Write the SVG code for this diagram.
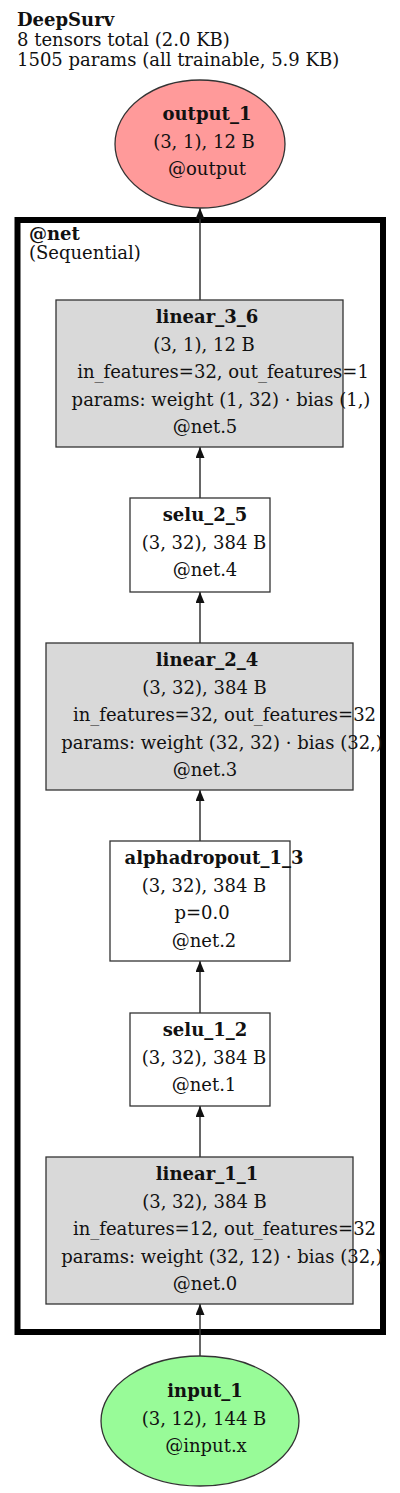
<svg xmlns="http://www.w3.org/2000/svg" width="400" height="1493" viewBox="0 0 400 1493">
<style>
text{font-family:"DejaVu Serif","Liberation Serif",serif;font-size:18px;fill:#111}
.b{font-weight:bold}
.m{text-anchor:middle}
.box{stroke:#333;stroke-width:1.3}
.g{fill:#d9d9d9}
.w{fill:#fff}
.e{stroke:#333;stroke-width:1.5;fill:none}
</style>
<defs>
<marker id="ah" markerUnits="userSpaceOnUse" markerWidth="11" markerHeight="9" refX="11" refY="4.5" orient="auto">
<path d="M0,0 L11,4.5 L0,9 z" fill="#111"/>
</marker>
</defs>
<rect width="400" height="1493" fill="#fff"/>
<g id="header">
<text x="17" y="26" class="b">DeepSurv</text>
<text x="17" y="46">8 tensors total (2.0 KB)</text>
<text x="17" y="66">1505 params (all trainable, 5.9 KB)</text>
</g>
<g id="cluster_net">
<rect x="17.5" y="220" width="365.5" height="1112" fill="none" stroke="#000" stroke-width="6"/>
<text x="29" y="240" class="b">@net</text>
<text x="29" y="259">(Sequential)</text>
</g>
<g id="edges">
<line class="e" x1="200" y1="300" x2="200" y2="208" marker-end="url(#ah)"/>
<line class="e" x1="200" y1="498" x2="200" y2="447" marker-end="url(#ah)"/>
<line class="e" x1="200" y1="643" x2="200" y2="592" marker-end="url(#ah)"/>
<line class="e" x1="200" y1="841" x2="200" y2="790" marker-end="url(#ah)"/>
<line class="e" x1="200" y1="1013" x2="200" y2="961" marker-end="url(#ah)"/>
<line class="e" x1="200" y1="1157" x2="200" y2="1106" marker-end="url(#ah)"/>
<line class="e" x1="200" y1="1356" x2="200" y2="1304" marker-end="url(#ah)"/>
</g>
<g id="output_1">
<ellipse cx="200" cy="144" rx="85" ry="64" fill="#ff9a9a" class="box"/>
<text x="207" y="120" class="b m">output_1</text>
<text x="204" y="148" class="m">(3, 1), 12 B</text>
<text x="207" y="175" class="m">@output</text>
</g>
<g id="linear_3_6">
<rect x="56" y="300" width="287" height="147" class="box g"/>
<text x="207" y="323" class="b m">linear_3_6</text>
<text x="204" y="350.5" class="m">(3, 1), 12 B</text>
<text x="223" y="378" class="m">in_features=32, out_features=1</text>
<text x="221" y="405.5" class="m">params: weight (1, 32) · bias (1,)</text>
<text x="205" y="433" class="m">@net.5</text>
</g>
<g id="selu_2_5">
<rect x="130" y="498" width="140" height="94" class="box w"/>
<text x="205" y="521" class="b m">selu_2_5</text>
<text x="204" y="548.5" class="m">(3, 32), 384 B</text>
<text x="205" y="576" class="m">@net.4</text>
</g>
<g id="linear_2_4">
<rect x="46" y="643" width="307" height="147" class="box g"/>
<text x="207" y="666" class="b m">linear_2_4</text>
<text x="204.5" y="693.5" class="m">(3, 32), 384 B</text>
<text x="224.5" y="721" class="m">in_features=32, out_features=32</text>
<text x="222" y="748.5" class="m">params: weight (32, 32) · bias (32,)</text>
<text x="205" y="776" class="m">@net.3</text>
</g>
<g id="alphadropout_1_3">
<rect x="110" y="841" width="180" height="120" class="box w"/>
<text x="214" y="864" class="b m">alphadropout_1_3</text>
<text x="204" y="891.5" class="m">(3, 32), 384 B</text>
<text x="202" y="919" class="m">p=0.0</text>
<text x="204" y="946.5" class="m">@net.2</text>
</g>
<g id="selu_1_2">
<rect x="130" y="1013" width="140" height="93" class="box w"/>
<text x="205" y="1036" class="b m">selu_1_2</text>
<text x="204" y="1063.5" class="m">(3, 32), 384 B</text>
<text x="204" y="1091" class="m">@net.1</text>
</g>
<g id="linear_1_1">
<rect x="46" y="1157" width="307" height="147" class="box g"/>
<text x="207" y="1180" class="b m">linear_1_1</text>
<text x="204.5" y="1207.5" class="m">(3, 32), 384 B</text>
<text x="224.5" y="1235" class="m">in_features=12, out_features=32</text>
<text x="222" y="1262.5" class="m">params: weight (32, 12) · bias (32,)</text>
<text x="205" y="1290" class="m">@net.0</text>
</g>
<g id="input_1">
<ellipse cx="200" cy="1421" rx="99" ry="65" fill="#98fb98" class="box"/>
<text x="205" y="1397" class="b m">input_1</text>
<text x="204" y="1425" class="m">(3, 12), 144 B</text>
<text x="206" y="1452" class="m">@input.x</text>
</g>
</svg>
